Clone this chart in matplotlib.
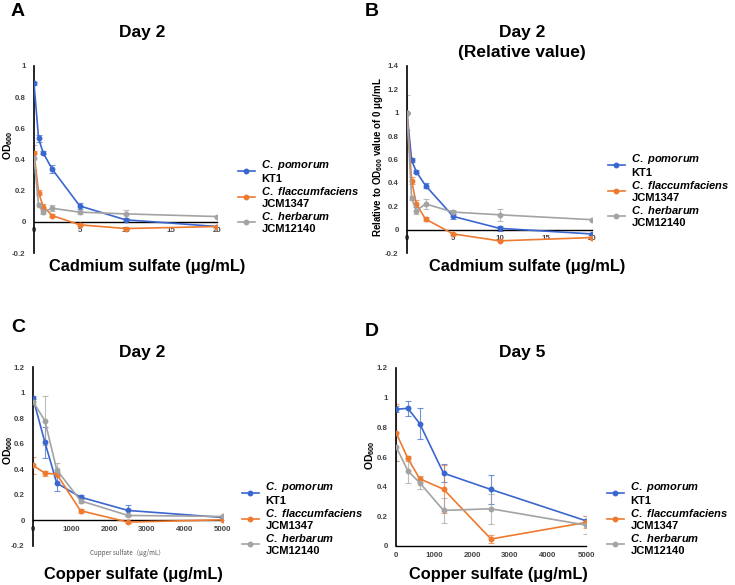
import matplotlib
matplotlib.use('Agg')
import matplotlib.pyplot as plt
import numpy as np

plt.rcParams['font.family'] = ['Liberation Sans', 'DejaVu Sans']
plt.rcParams['mathtext.fontset'] = 'custom'
plt.rcParams['mathtext.it'] = 'Liberation Sans:italic:bold'
plt.rcParams['mathtext.rm'] = 'Liberation Sans:bold'
plt.rcParams['mathtext.bf'] = 'Liberation Sans:bold'

###############################################################
# data
###############################################################
cd_conc = [0, 0.5, 1, 2, 5, 10, 20]
cu_conc = [0, 312.5, 625, 1250, 2500, 5000]

strains = [r'$\it{C.\ pomorum}$' + '\nKT1',
           r'$\it{C.\ flaccumfaciens}$' + '\nJCM1347',
           r'$\it{C.\ herbarum}$' + '\nJCM12140']

# A - cadmium, day 2, OD600
cd_pom = [0.89, 0.535, 0.443, 0.337, 0.102, 0.013, -0.03]
cd_fla = [0.443, 0.188, 0.098, 0.04, -0.019, -0.043, -0.03]
cd_her = [0.41, 0.109, 0.064, 0.087, 0.062, 0.051, 0.034]
cd_pom_err = [0.01, 0.02, 0.01, 0.025, 0.02, 0.01, 0.005]
cd_fla_err = [0.01, 0.015, 0.015, 0.01, 0.01, 0.005, 0.005]
cd_her_err = [0.08, 0.01, 0.015, 0.02, 0.01, 0.025, 0.005]

# B - cadmium, day 2, relative value
rel_pom = [1.0, 0.595, 0.496, 0.377, 0.113, 0.011, -0.037]
rel_fla = [1.0, 0.42, 0.22, 0.09, -0.037, -0.096, -0.068]
rel_her = [1.0, 0.27, 0.16, 0.22, 0.15, 0.127, 0.085]
rel_pom_err = [0.0, 0.02, 0.01, 0.025, 0.02, 0.02, 0.005]
rel_fla_err = [0.0, 0.03, 0.03, 0.015, 0.01, 0.005, 0.005]
rel_her_err = [0.15, 0.02, 0.03, 0.04, 0.015, 0.05, 0.005]

# C - copper, day 2
cu2_pom = [0.956, 0.612, 0.292, 0.182, 0.078, 0.023]
cu2_fla = [0.43, 0.37, 0.362, 0.076, -0.013, 0.005]
cu2_her = [0.93, 0.78, 0.396, 0.154, 0.039, 0.031]
cu2_pom_err = [0.02, 0.12, 0.06, 0.015, 0.04, 0.005]
cu2_fla_err = [0.07, 0.02, 0.02, 0.015, 0.005, 0.005]
cu2_her_err = [0.02, 0.19, 0.05, 0.02, 0.005, 0.01]

# D - copper, day 5
cu5_pom = [0.922, 0.928, 0.825, 0.491, 0.381, 0.17]
cu5_fla = [0.765, 0.59, 0.453, 0.383, 0.047, 0.159]
cu5_her = [0.67, 0.507, 0.426, 0.24, 0.251, 0.141]
cu5_pom_err = [0.02, 0.05, 0.105, 0.06, 0.1, 0.01]
cu5_fla_err = [0.19, 0.02, 0.02, 0.16, 0.025, 0.04]
cu5_her_err = [0.1, 0.08, 0.04, 0.085, 0.1, 0.06]

colors = ['#3a66cf', '#ee7a30', '#a3a3a3']

###############################################################
# figure
###############################################################
W, H = 735, 585
fig = plt.figure(figsize=(W / 100, H / 100), dpi=100)


def px_axes(x0, y_top, x1, y_bot):
    return fig.add_axes([x0 / W, 1 - y_bot / H, (x1 - x0) / W, (y_bot - y_top) / H])


def panel(ax, x, ys, errs, xlim, ylim, yticks, xticks):
    for y, e, c in zip(ys, errs, colors):
        ax.errorbar(x, y, yerr=e, fmt='none', ecolor=c, elinewidth=0.8,
                    capsize=2, capthick=0.8, alpha=0.7, zorder=2)
    for y, c, lab in zip(ys, colors, strains):
        ax.plot(x, y, color=c, marker='o', markersize=3.2, linewidth=1.2,
                label=lab, zorder=3)
    ax.set_xlim(*xlim)
    ax.set_ylim(*ylim)
    ax.set_yticks(yticks)
    ax.set_xticks(xticks)
    ax.yaxis.set_major_formatter(plt.FuncFormatter(lambda v, p: '%g' % round(v, 2)))
    ax.xaxis.set_major_formatter(plt.FuncFormatter(lambda v, p: '%g' % v))
    for s in ['top', 'right']:
        ax.spines[s].set_visible(False)
    ax.spines['bottom'].set_position(('data', 0))
    ax.spines['left'].set_linewidth(1.2)
    ax.spines['bottom'].set_linewidth(1.0)
    ax.tick_params(axis='y', length=0, labelsize=5.7, labelcolor='#444444', pad=6)
    ax.tick_params(axis='x', length=0, labelsize=5.7, labelcolor='#444444', pad=4)
    for t in ax.get_xticklabels() + ax.get_yticklabels():
        t.set_fontweight('bold')
    ax.patch.set_alpha(0)


def legend(ax, x, y):
    ax.legend(loc='center left', bbox_to_anchor=(x / W, 1 - y / H),
              bbox_transform=fig.transFigure, frameon=False,
              prop={'size': 8, 'weight': 'bold'}, handlelength=1.5,
              handletextpad=0.6, labelspacing=0.15, borderpad=0,
              borderaxespad=0)


# A
axA = px_axes(34, 66, 217, 253)
panel(axA, cd_conc, [cd_pom, cd_fla, cd_her],
      [cd_pom_err, cd_fla_err, cd_her_err],
      (0, 20), (-0.2, 1.0), np.arange(-0.2, 1.01, 0.2), [0, 5, 10, 15, 20])
legend(axA, 238, 196)

# B
axB = px_axes(407, 66, 592, 253)
panel(axB, cd_conc, [rel_pom, rel_fla, rel_her],
      [rel_pom_err, rel_fla_err, rel_her_err],
      (0, 20), (-0.2, 1.4), np.arange(-0.2, 1.41, 0.2), [0, 5, 10, 15, 20])
legend(axB, 608, 190)

# C
axC = px_axes(33, 367, 223, 546)
panel(axC, cu_conc, [cu2_pom, cu2_fla, cu2_her],
      [cu2_pom_err, cu2_fla_err, cu2_her_err],
      (0, 5000), (-0.2, 1.2), np.arange(-0.2, 1.21, 0.2),
      [0, 1000, 2000, 3000, 4000, 5000])
legend(axC, 242, 518)

# D
axD = px_axes(396, 368, 586, 546)
panel(axD, cu_conc, [cu5_pom, cu5_fla, cu5_her],
      [cu5_pom_err, cu5_fla_err, cu5_her_err],
      (0, 5000), (0, 1.2), np.arange(0, 1.21, 0.2),
      [0, 1000, 2000, 3000, 4000, 5000])
legend(axD, 607, 518)

###############################################################
# texts
###############################################################
def ftext(x, y, s, **kw):
    fig.text(x / W, 1 - y / H, s, ha='center', va='center', **kw)


for lab, x, y in [('A', 18, 11), ('B', 372, 11), ('C', 18, 327), ('D', 372, 332)]:
    ftext(x, y, lab, fontsize=14, fontweight='bold')

ftext(142, 32, 'Day 2', fontsize=12.5, fontweight='bold')
ftext(522, 32, 'Day 2', fontsize=12.5, fontweight='bold')
ftext(522, 52, '(Relative value)', fontsize=12.5, fontweight='bold')
ftext(142, 353, 'Day 2', fontsize=12.5, fontweight='bold')
ftext(522, 353, 'Day 5', fontsize=12.5, fontweight='bold')

ftext(147, 267, 'Cadmium sulfate (μg/mL)', fontsize=11.8, fontweight='bold')
ftext(527, 267, 'Cadmium sulfate (μg/mL)', fontsize=11.8, fontweight='bold')
ftext(133, 575, 'Copper sulfate (μg/mL)', fontsize=11.8, fontweight='bold')
ftext(498, 575, 'Copper sulfate (μg/mL)', fontsize=11.8, fontweight='bold')
ftext(127, 553, 'Cupper sulfate（μg/mL）', fontsize=4.5, color='#555555',
      family=['Noto Sans CJK JP', 'DejaVu Sans'])

ftext(8, 145, r'OD$_{600}$', fontsize=7.5, fontweight='bold', rotation=90)
ftext(378, 157, r'Relative to OD$_{600}$ value of 0 μg/mL', fontsize=7,
      fontweight='bold', rotation=90)
ftext(8, 450, r'OD$_{600}$', fontsize=7.5, fontweight='bold', rotation=90)
ftext(370, 455, r'OD$_{600}$', fontsize=7.5, fontweight='bold', rotation=90)

plt.savefig('out.png', dpi=100)
